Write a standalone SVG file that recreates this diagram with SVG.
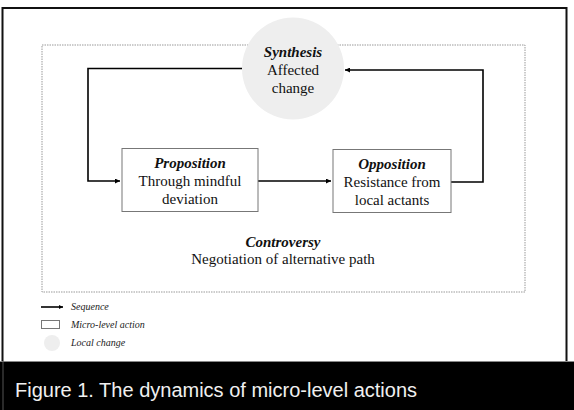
<svg xmlns="http://www.w3.org/2000/svg" width="574" height="410" viewBox="0 0 574 410">
<defs>
<marker id="ah" viewBox="0 0 8 8" refX="8" refY="4" markerWidth="5" markerHeight="5" markerUnits="userSpaceOnUse" orient="auto"><path d="M0,0 L8,4 L0,8 Z" fill="#000"/></marker>
<marker id="ahs" viewBox="0 0 8 8" refX="8" refY="4" markerWidth="4" markerHeight="4" markerUnits="userSpaceOnUse" orient="auto"><path d="M0,0 L8,4 L0,8 Z" fill="#000"/></marker>
</defs>
<style>
.t{font-family:"Liberation Serif","Times New Roman",serif;font-size:15px;fill:#111;text-anchor:middle}
.h{font-weight:bold;font-style:italic}
.lg{font-family:"Liberation Serif","Times New Roman",serif;font-size:10px;font-style:italic;fill:#222}
.box{fill:#fff;stroke:#777;stroke-width:1}
.c{fill:none;stroke:#000;stroke-width:1.6}
</style>
<rect x="0" y="0" width="574" height="410" fill="#fff"/>
<rect id="frame" x="2.5" y="8" width="564" height="354" fill="#fff" stroke="#111" stroke-width="2"/>
<rect id="controversy-area" x="42" y="45" width="483" height="247" fill="none" stroke="#999" stroke-width="1" stroke-dasharray="1.5,1"/>
<g id="connectors">
<path class="c" d="M242,68.5 H88 V181 H120" marker-end="url(#ah)"/>
<path class="c" d="M258,181 H331" marker-end="url(#ah)"/>
<path class="c" d="M451,182 H483 V70 H345" marker-end="url(#ah)"/>
</g>
<g id="synthesis">
<circle cx="293" cy="68.5" r="51" fill="#eeeeee"/>
<text class="t h" x="293" y="57">Synthesis</text>
<text class="t" x="293" y="75">Affected</text>
<text class="t" x="293" y="93">change</text>
</g>
<g id="proposition">
<rect class="box" x="122" y="148.5" width="136" height="63"/>
<text class="t h" x="190" y="168">Proposition</text>
<text class="t" x="190" y="186">Through mindful</text>
<text class="t" x="190" y="204">deviation</text>
</g>
<g id="opposition">
<rect class="box" x="333" y="149.5" width="118" height="63"/>
<text class="t h" x="392" y="169">Opposition</text>
<text class="t" x="392" y="187">Resistance from</text>
<text class="t" x="392" y="205">local actants</text>
</g>
<g id="controversy">
<text class="t h" x="283" y="247">Controversy</text>
<text class="t" x="283" y="264">Negotiation of alternative path</text>
</g>
<g id="legend">
<path class="c" d="M41,307 H63" stroke-width="1.3" marker-end="url(#ahs)"/>
<text class="lg" x="71" y="310">Sequence</text>
<rect x="41.5" y="320.5" width="18" height="8" fill="#fff" stroke="#777" stroke-width="1"/>
<text class="lg" x="71" y="327.5">Micro-level action</text>
<circle cx="52" cy="343" r="8" fill="#eeeeee"/>
<text class="lg" x="71" y="346">Local change</text>
</g>
<g id="caption">
<rect x="0" y="361" width="574" height="49" fill="#000"/>
<line x1="0" y1="361.5" x2="574" y2="361.5" stroke="#888" stroke-width="1"/>
<line x1="3" y1="361" x2="3" y2="410" stroke="#555" stroke-width="1"/>
<text x="15" y="397" font-family="'Liberation Sans',Arial,sans-serif" font-size="20" fill="#f0f0f0">Figure 1. The dynamics of micro-level actions</text>
</g>
</svg>
